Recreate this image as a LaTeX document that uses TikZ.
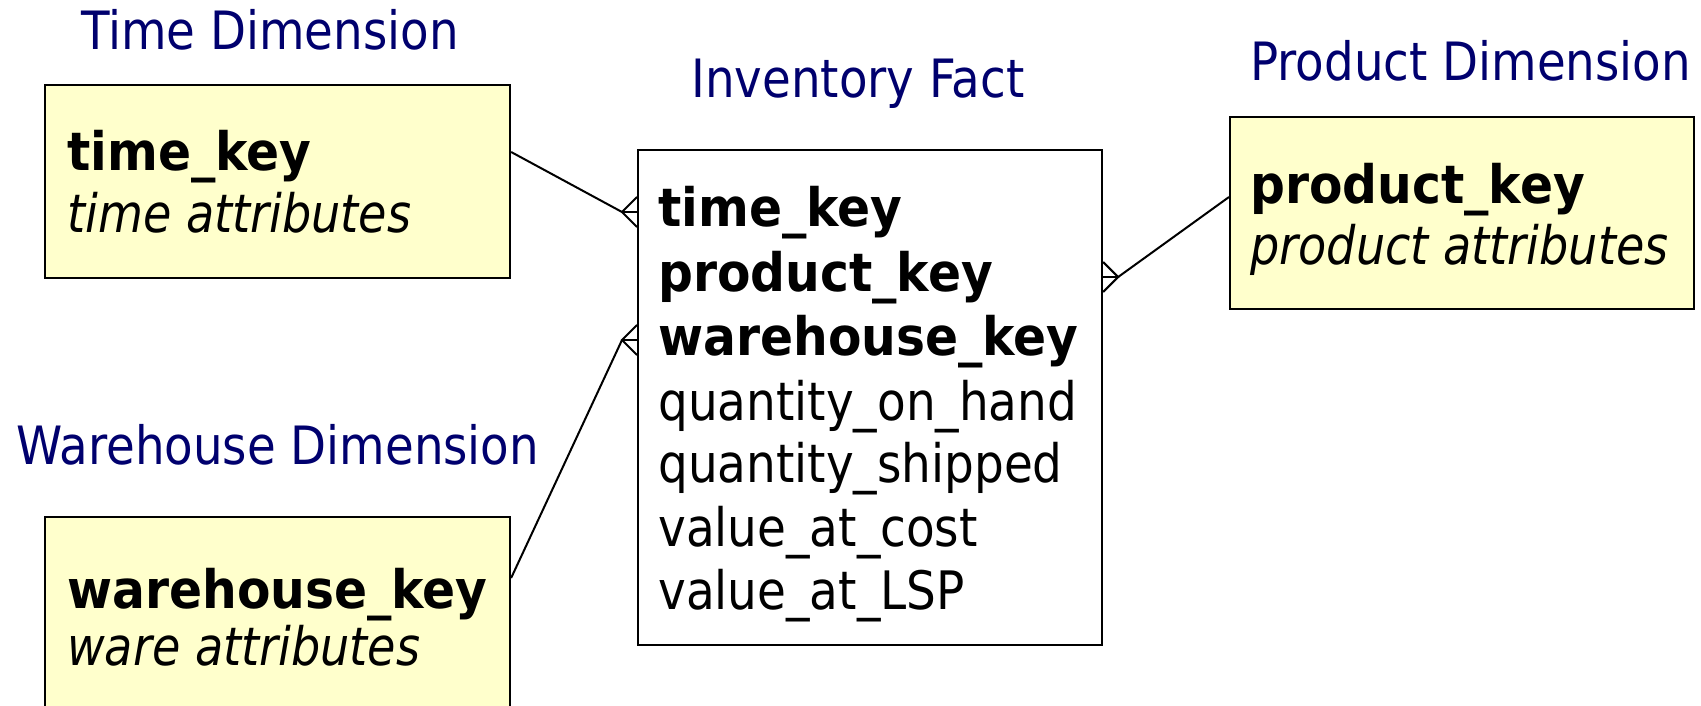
\documentclass[tikz,border=0pt]{standalone}
\usepackage{fontspec}
\setmainfont{DejaVu Sans}[UprightFeatures={FakeStretch=0.885},BoldFeatures={FakeStretch=0.92},ItalicFeatures={FakeStretch=0.87}]
\usetikzlibrary{calc}
\definecolor{titleblue}{RGB}{0,0,110}
\definecolor{boxyellow}{RGB}{255,255,204}
\begin{document}
\begin{tikzpicture}[x=0.75pt,y=-0.75pt,
  dimbox/.style={draw=black,line width=1.6pt,fill=boxyellow,rectangle,inner sep=0pt,anchor=north west},
  factbox/.style={draw=black,line width=1.6pt,fill=white,rectangle,inner sep=0pt,anchor=north west},
  ttl/.style={anchor=base west,inner sep=0pt,text=titleblue,font=\fontsize{39.6pt}{46pt}\selectfont},
  txt/.style={anchor=base west,inner sep=0pt,text=black,font=\fontsize{39.75pt}{48pt}\selectfont},
  conn/.style={draw=black,line width=1.5pt}]
\useasboundingbox (0,0) rectangle (1701,706);
\clip (0,0) rectangle (1701,706);
\fill[white] (0,0) rectangle (1701,706);

% boxes
\node[dimbox,minimum width=465*0.75pt,minimum height=193*0.75pt] (tbox) at (44,84) {};
\node[dimbox,minimum width=465*0.75pt,minimum height=220*0.75pt] (wbox) at (44,516) {};
\node[dimbox,minimum width=464*0.75pt,minimum height=192*0.75pt] (pbox) at (1229,116) {};
\node[factbox,minimum width=464*0.75pt,minimum height=495*0.75pt] (fbox) at (637,149) {};

% titles
\node[ttl] (tt) at (81,50) {Time Dimension};
\node[ttl] (ft) at (691,98) {Inventory Fact};
\node[ttl] (pt) at (1250,81) {Product Dimension};
\node[ttl] (wt) at (16,464) {Warehouse Dimension};

% dimension texts
\node[txt] (t1) at (67,171) {\textbf{time\_key}};
\node[txt] (t2) at (67,232) {\textit{time attributes}};
\node[txt] (w1) at (67,608) {\textbf{warehouse\_key}};
\node[txt] (w2) at (67,665) {\textit{ware attributes}};
\node[txt] (p1) at (1250,203) {\textbf{product\_key}};
\node[txt] (p2) at (1250,264) {\textit{product attributes}};

% fact texts
\node[txt] (f1) at (658,226) {\textbf{time\_key}};
\node[txt] (f2) at (658,291) {\textbf{product\_key}};
\node[txt] (f3) at (658,355) {\textbf{warehouse\_key}};
\node[txt] (f4) at (658,420) {quantity\_on\_hand};
\node[txt] (f5) at (658,482) {quantity\_shipped};
\node[txt] (f6) at (658,546) {value\_at\_cost};
\node[txt] (f7) at (658,609) {value\_at\_LSP};

% connector coordinates
\coordinate (ts) at ($(tbox.north east)+(0,68)$);
\coordinate (tv) at ($(fbox.north west)+(-15,63)$);
\coordinate (ws) at ($(wbox.north east)+(0,62)$);
\coordinate (wv) at ($(fbox.north west)+(-15,191)$);
\coordinate (ps) at ($(pbox.north west)+(0,81)$);
\coordinate (pv) at ($(fbox.north east)+(15,128)$);

% connectors with crow's feet
\draw[conn] (ts) -- (tv);
\draw[conn] ($(tv)+(15,-15)$) -- (tv) -- ($(tv)+(15,15)$);
\draw[conn] (tv) -- (tv -| fbox.west);

\draw[conn] (ws) -- (wv);
\draw[conn] ($(wv)+(15,-15)$) -- (wv) -- ($(wv)+(15,15)$);
\draw[conn] (wv) -- (wv -| fbox.west);

\draw[conn] (ps) -- (pv);
\draw[conn] ($(pv)+(-15,-15)$) -- (pv) -- ($(pv)+(-15,15)$);
\draw[conn] (pv) -- (pv -| fbox.east);
\end{tikzpicture}
\end{document}
